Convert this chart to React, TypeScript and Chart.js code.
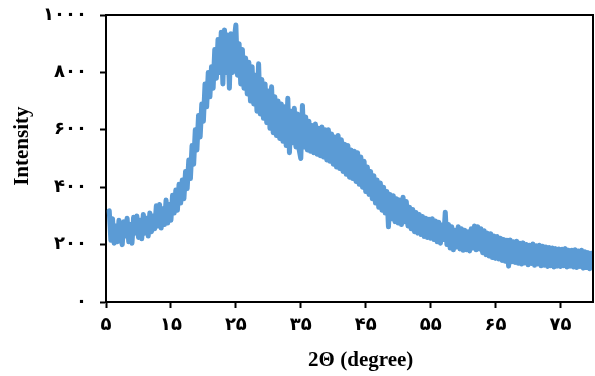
import { useEffect, useRef } from "react";
import { Chart, registerables } from "chart.js";

Chart.register(...registerables);

// XRD scan: first angle and angular step (degrees 2θ)
const SCAN_START = 5.5;
const SCAN_STEP = 0.25;

// Intensity readings, in scan order
const intensity05to15 = [
  318, 215, 290, 205, 265, 210, 285, 225, 200, 280,
  230, 292, 210, 270, 205, 295, 240, 300, 225, 285,
  220, 305, 240, 292, 230, 310, 245, 300, 255, 335,
  265, 340, 258, 325, 270, 355, 275, 340,
];
const intensity15to25 = [
  285, 372, 310, 390, 320, 410, 345, 425, 360, 455,
  395, 495, 430, 545, 480, 600, 530, 650, 575, 690,
  630, 760, 680, 800, 715, 820, 745, 880, 780, 915,
  800, 940, 760, 948, 800, 930, 745, 935, 800, 915,
];
const intensity25to35 = [
  965, 790, 900, 760, 880, 745, 850, 725, 835, 700,
  820, 690, 790, 665, 830, 655, 775, 640, 760, 625,
  735, 605, 750, 590, 715, 580, 700, 570, 690, 560,
  680, 545, 710, 520, 665, 555, 675, 540, 655, 530,
];
const intensity35to45 = [
  500, 685, 540, 645, 530, 630, 525, 615, 520, 620,
  515, 605, 510, 610, 505, 600, 495, 600, 490, 585,
  480, 575, 470, 580, 465, 565, 455, 550, 445, 545,
  435, 530, 430, 525, 420, 520, 410, 505, 400, 490,
];
const intensity45to55 = [
  385, 470, 375, 455, 360, 440, 345, 425, 330, 415,
  320, 400, 310, 385, 262, 375, 290, 370, 280, 360,
  275, 355, 270, 365, 280, 350, 265, 330, 255, 322,
  245, 312, 240, 305, 235, 298, 228, 292, 225, 288,
];
const intensity55to65 = [
  222, 290, 218, 282, 210, 278, 205, 268, 218, 313,
  200, 270, 188, 262, 182, 250, 192, 262, 185, 255,
  180, 250, 182, 245, 178, 255, 188, 265, 182, 262,
  185, 255, 172, 248, 165, 240, 160, 238, 155, 230,
];
const intensity65to75 = [
  152, 228, 150, 222, 145, 218, 142, 215, 125, 216,
  140, 210, 138, 212, 135, 205, 132, 206, 136, 200,
  130, 198, 134, 202, 128, 196, 132, 198, 126, 194,
  128, 192, 124, 190, 126, 188, 122, 186, 125, 185,
];
const intensity75to80 = [
  124, 184, 126, 186, 122, 180, 125, 180, 122, 182,
  120, 178, 124, 180, 118, 175, 120, 172, 116, 170, 122,
];

// Axis ticks
const xTickValues = [5, 15, 25, 35, 45, 55, 65, 75];
const xTickLabels = ["۵", "۱۵", "۲۵", "۳۵", "۴۵", "۵۵", "۶۵", "۷۵"];
const yTickValues = [0, 200, 400, 600, 800, 1000];
const yTickLabels = ["۰", "۲۰۰", "۴۰۰", "۶۰۰", "۸۰۰", "۱۰۰۰"];

const X_MIN = 5;
const X_MAX = 80;
const Y_MIN = 0;
const Y_MAX = 1000;

const X_TITLE = "2Θ (degree)";
const Y_TITLE = "Intensity";

const LINE_COLOR = "#5B9BD5";
const TICK_FONT = "'Times New Roman', 'Liberation Serif', 'DejaVu Sans', serif";
const TITLE_FONT = "'Liberation Serif', 'Times New Roman', serif";

export default function App() {
  const canvasRef = useRef<HTMLCanvasElement | null>(null);

  useEffect(() => {
    document.body.style.margin = "0";
    const canvas = canvasRef.current;
    if (!canvas) return;

    const all = [
      ...intensity05to15,
      ...intensity15to25,
      ...intensity25to35,
      ...intensity35to45,
      ...intensity45to55,
      ...intensity55to65,
      ...intensity65to75,
      ...intensity75to80,
    ];
    const points = all.map((v, i) => ({ x: SCAN_START + i * SCAN_STEP, y: v }));

    const framePlugin = {
      id: "frameAndTitles",
      afterDraw(chart: any) {
        const { ctx, chartArea } = chart;
        const { left, right, top, bottom } = chartArea;
        ctx.save();
        ctx.strokeStyle = "#000";
        ctx.lineWidth = 2;
        ctx.beginPath();
        ctx.moveTo(left, top);
        ctx.lineTo(right, top);
        ctx.lineTo(right, bottom);
        ctx.stroke();

        ctx.fillStyle = "#000";
        ctx.font = `bold 21px ${TITLE_FONT}`;
        ctx.textAlign = "center";
        ctx.textBaseline = "middle";
        // x-axis title
        ctx.fillText(X_TITLE, left + (right - left) * 0.523, 361);
        // y-axis title
        ctx.translate(23, top + (bottom - top) * 0.457);
        ctx.rotate(-Math.PI / 2);
        ctx.fillText(Y_TITLE, 0, 0);
        ctx.restore();
      },
    };

    const zeroPad = (scale: any) => {
      scale.paddingTop = 0;
      scale.paddingBottom = 0;
      scale.paddingLeft = 0;
      scale.paddingRight = 0;
    };

    const chart = new Chart(canvas, {
      type: "line",
      data: {
        datasets: [
          {
            data: points,
            borderColor: LINE_COLOR,
            borderWidth: 5,
            borderJoinStyle: "round",
            borderCapStyle: "round",
            pointRadius: 0,
            tension: 0,
            fill: false,
          },
        ],
      },
      options: {
        animation: false,
        responsive: false,
        devicePixelRatio: 1,
        layout: { padding: { top: 15, right: 2, left: 0, bottom: 0 } },
        plugins: {
          legend: { display: false },
          tooltip: { enabled: false },
        },
        scales: {
          x: {
            type: "linear",
            min: X_MIN,
            max: X_MAX,
            afterBuildTicks: (scale: any) => {
              scale.ticks = xTickValues.map((v) => ({ value: v }));
            },
            afterFit: (scale: any) => {
              scale.height = 74;
              zeroPad(scale);
            },
            ticks: {
              autoSkip: false,
              maxRotation: 0,
              padding: 7,
              color: "#000",
              font: { family: TICK_FONT, size: 18, weight: "bold" },
              callback: (value: any) => {
                const idx = xTickValues.indexOf(Number(value));
                return idx >= 0 ? xTickLabels[idx] : "";
              },
            },
            grid: {
              drawOnChartArea: false,
              drawTicks: true,
              tickLength: 6,
              tickColor: "#000",
              tickWidth: 2,
            },
            border: { display: true, color: "#000", width: 2 },
          },
          y: {
            type: "linear",
            min: Y_MIN,
            max: Y_MAX,
            afterBuildTicks: (scale: any) => {
              scale.ticks = yTickValues.map((v) => ({ value: v }));
            },
            afterFit: (scale: any) => {
              scale.width = 106;
              zeroPad(scale);
            },
            ticks: {
              autoSkip: false,
              padding: 13,
              color: "#000",
              font: { family: TICK_FONT, size: 18, weight: "bold" },
              callback: (value: any) => {
                const idx = yTickValues.indexOf(Number(value));
                return idx >= 0 ? yTickLabels[idx] : "";
              },
            },
            grid: {
              drawOnChartArea: false,
              drawTicks: true,
              tickLength: 6,
              tickColor: "#000",
              tickWidth: 2,
            },
            border: { display: true, color: "#000", width: 2 },
          },
        },
      },
      plugins: [framePlugin],
    });

    return () => chart.destroy();
  }, []);

  return (
    <div style={{ width: 595, height: 376 }}>
      <canvas ref={canvasRef} width={595} height={376} style={{ display: "block" }} />
    </div>
  );
}
